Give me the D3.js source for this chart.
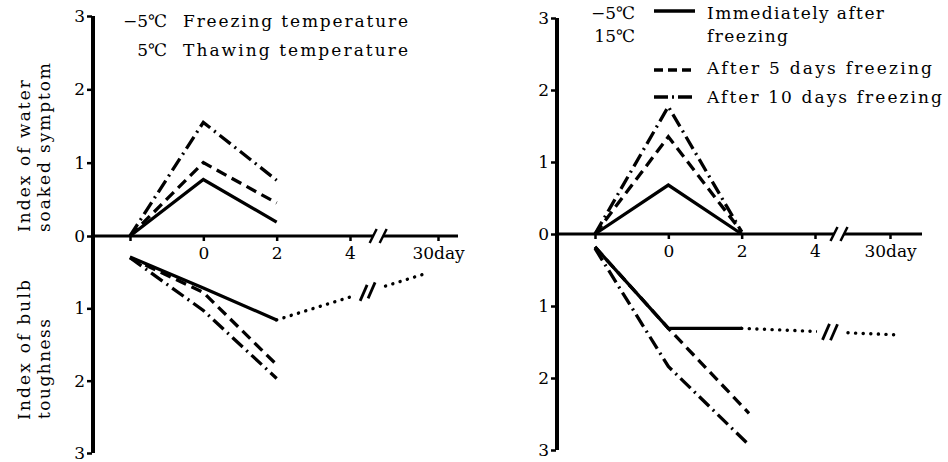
<!DOCTYPE html>
<html>
<head>
<meta charset="utf-8">
<script src="https://cdn.jsdelivr.net/npm/d3@7"></script>
<style>
  body { margin: 0; background: #fff; }
  text { font-family: "DejaVu Serif", "Liberation Serif", serif; fill: #000; }
</style>
</head>
<body>
<div id="chart"></div>
<script>
// Series (line styles shared by both panels)
const seriesNames = ["Immediately after freezing", "After 5 days freezing", "After 10 days freezing"];
const seriesDash = ["none", "11 6", "14 5 2 5"];

const xTicks = [-2, 0, 2, 4, 30];
const xTickLabels = ["", "0", "2", "4", "30day"];
const yTicks = [0, 1, 2, 3];

// Left panel: -5C freezing / 5C thawing
const leftSoakDays = [[-2, 0, 2], [-2, 0, 2], [-2, 0, 2]];
const leftSoak = [[0, 0.77, 0.19], [0, 1.0, 0.45], [0, 1.55, 0.76]];
const leftToughDays = [[-2, 0, 2], [-2, 0, 2], [-2, 0, 2]];
const leftTough = [[0.29, 0.72, 1.16], [0.30, 0.78, 1.78], [0.30, 1.03, 1.97]];
const leftRecoveryDays = [2, 27];
const leftRecovery = [1.16, 0.51];

// Right panel: -5C freezing / 15C thawing
const rightSoakDays = [[-2, 0, 2], [-2, 0, 2], [-2, 0, 2]];
const rightSoak = [[0, 0.68, 0], [0, 1.35, 0.03], [0, 1.77, 0.03]];
const rightToughDays = [[-2, 0, 2], [-2, 0, 2.2], [-2, 0, 2.2]];
const rightTough = [[0.18, 1.31, 1.31], [0.18, 1.31, 2.49], [0.2, 1.84, 2.93]];
const rightRecoveryDays = [2, 32];
const rightRecovery = [1.31, 1.40];

const width = 948, height = 462;

const svg = d3.select("#chart").append("svg")
    .attr("width", width)
    .attr("height", height);

function zip(xs, ys) {
    return xs.map((d, i) => ({ day: d, v: ys[i] }));
}

function drawPanel(p) {
    const g = svg.append("g");

    // broken time axis: piecewise linear scale
    const x = d3.scaleLinear().domain([-2, 4, 30]).range(p.xRange);
    const yTop = d3.scaleLinear().domain([0, 3]).range([p.y0, p.yTopEnd]);
    const yBot = d3.scaleLinear().domain([0, 3]).range([p.y0, p.yBotEnd]);

    const axisBreakX = x(4) + 0.32 * (x(30) - x(4));
    const lineBreakX = x(4) + 0.2 * (x(30) - x(4));

    // horizontal axis with break
    g.append("line")
        .attr("x1", p.axisX).attr("x2", axisBreakX - 5)
        .attr("y1", p.y0).attr("y2", p.y0)
        .attr("stroke", "#000").attr("stroke-width", 3);
    g.append("line")
        .attr("x1", axisBreakX + 5).attr("x2", p.axisEnd)
        .attr("y1", p.y0).attr("y2", p.y0)
        .attr("stroke", "#000").attr("stroke-width", 3);
    [-5, 5].forEach(o => {
        g.append("line")
            .attr("x1", axisBreakX + o - 3.5).attr("x2", axisBreakX + o + 3.5)
            .attr("y1", p.y0 + 7).attr("y2", p.y0 - 7)
            .attr("stroke", "#000").attr("stroke-width", 2.5);
    });

    const xAxis = g.append("g")
        .attr("transform", `translate(0,${p.y0})`)
        .call(d3.axisBottom(x)
            .tickValues(xTicks)
            .tickSize(5)
            .tickPadding(6)
            .tickFormat((d, i) => xTickLabels[i]));
    xAxis.select(".domain").remove();
    xAxis.selectAll("line").attr("stroke-width", 2.5);
    xAxis.selectAll("text")
        .style("font-family", "DejaVu Serif")
        .attr("font-size", 17)
        .attr("dy", "0.71em");

    // vertical axis
    g.append("line")
        .attr("x1", p.axisX).attr("x2", p.axisX)
        .attr("y1", yTop(3)).attr("y2", yBot(3))
        .attr("stroke", "#000").attr("stroke-width", 4);

    const yAxisTop = g.append("g")
        .attr("transform", `translate(${p.axisX - 1},0)`)
        .call(d3.axisLeft(yTop).tickValues(yTicks).tickFormat(d3.format("d"))
            .tickSize(5).tickPadding(2));
    const yAxisBot = g.append("g")
        .attr("transform", `translate(${p.axisX - 1},0)`)
        .call(d3.axisLeft(yBot).tickValues(yTicks.slice(1)).tickFormat(d3.format("d"))
            .tickSize(5).tickPadding(2));
    [yAxisTop, yAxisBot].forEach(a => {
        a.select(".domain").remove();
        a.selectAll("line").attr("stroke-width", 2.5);
        a.selectAll("text")
            .style("font-family", "DejaVu Serif")
            .attr("font-size", 17);
    });

    // data lines
    const lineTop = d3.line().x(d => x(d.day)).y(d => yTop(d.v));
    const lineBot = d3.line().x(d => x(d.day)).y(d => yBot(d.v));

    seriesNames.forEach((name, i) => {
        g.append("path")
            .datum(zip(p.soakDays[i], p.soak[i]))
            .attr("d", lineTop)
            .attr("fill", "none")
            .attr("stroke", "#000")
            .attr("stroke-width", 3.3)
            .attr("stroke-dasharray", seriesDash[i]);
        g.append("path")
            .datum(zip(p.toughDays[i], p.tough[i]))
            .attr("d", lineBot)
            .attr("fill", "none")
            .attr("stroke", "#000")
            .attr("stroke-width", 3.3)
            .attr("stroke-dasharray", seriesDash[i]);
    });

    // dotted recovery line with break marks
    const rec = zip(p.recDays, p.rec);
    g.append("path")
        .datum(rec)
        .attr("d", lineBot)
        .attr("fill", "none")
        .attr("stroke", "#000")
        .attr("stroke-width", 3.4)
        .attr("stroke-linecap", "round")
        .attr("stroke-dasharray", "0.1 7.5");

    const ax = x(rec[0].day), ay = yBot(rec[0].v);
    const bx = x(rec[1].day), by = yBot(rec[1].v);
    const t = (lineBreakX - ax) / (bx - ax);
    const cy = ay + t * (by - ay);
    g.append("line")
        .attr("x1", lineBreakX - 13).attr("x2", lineBreakX + 13)
        .attr("y1", cy - 13 * (by - ay) / (bx - ax))
        .attr("y2", cy + 13 * (by - ay) / (bx - ax))
        .attr("stroke", "#fff").attr("stroke-width", 8);
    [-4, 4].forEach(o => {
        const yy = cy + o * (by - ay) / (bx - ax);
        g.append("line")
            .attr("x1", lineBreakX + o - 3.5).attr("x2", lineBreakX + o + 3.5)
            .attr("y1", yy + 8).attr("y2", yy - 8)
            .attr("stroke", "#000").attr("stroke-width", 2.8);
    });

    return g;
}

drawPanel({
    axisX: 93, axisEnd: 458, xRange: [130, 350, 438],
    y0: 236, yTopEnd: 16, yBotEnd: 453,
    soakDays: leftSoakDays, soak: leftSoak,
    toughDays: leftToughDays, tough: leftTough,
    recDays: leftRecoveryDays, rec: leftRecovery
});

drawPanel({
    axisX: 557, axisEnd: 922, xRange: [595, 815, 890],
    y0: 234, yTopEnd: 18, yBotEnd: 450,
    soakDays: rightSoakDays, soak: rightSoak,
    toughDays: rightToughDays, tough: rightTough,
    recDays: rightRecoveryDays, rec: rightRecovery
});

// y axis titles (left panel only)
function vtext(txt, x, y, len) {
    svg.append("text")
        .attr("transform", `translate(${x},${y}) rotate(-90)`)
        .attr("font-size", 17)
        .attr("textLength", len)
        .attr("lengthAdjust", "spacing")
        .text(txt);
}
vtext("Index of water", 30, 232, 152);
vtext("soaked symptom", 50, 232, 169);
vtext("Index of bulb", 30, 420, 140);
vtext("toughness", 50, 419, 100);

// left legend (temperatures)
function htext(txt, x, y, anchor, len) {
    const t = svg.append("text")
        .attr("x", x).attr("y", y)
        .attr("font-size", 17)
        .attr("text-anchor", anchor)
        .text(txt);
    if (len) t.attr("textLength", len).attr("lengthAdjust", "spacing");
}
htext("−5℃", 167, 27, "end");
htext("Freezing temperature", 183, 27, "start", 225);
htext("5℃", 167, 56, "end");
htext("Thawing temperature", 183, 56, "start", 225);

// right legend
htext("−5℃", 635, 19, "end");
htext("15℃", 635, 42, "end");
htext("Immediately after", 707, 19, "start", 177);
htext("freezing", 707, 42, "start", 81);
htext("After 5 days freezing", 707, 74, "start", 225);
htext("After 10 days freezing", 707, 103, "start", 235);

const legendY = [11, 70, 97];
seriesNames.forEach((name, i) => {
    svg.append("line")
        .attr("x1", 654).attr("x2", 695)
        .attr("y1", legendY[i]).attr("y2", legendY[i])
        .attr("stroke", "#000")
        .attr("stroke-width", 3.3)
        .attr("stroke-dasharray", i === 0 ? "none" : (i === 1 ? "9 5" : "14 4 2 4"));
});
</script>
</body>
</html>
